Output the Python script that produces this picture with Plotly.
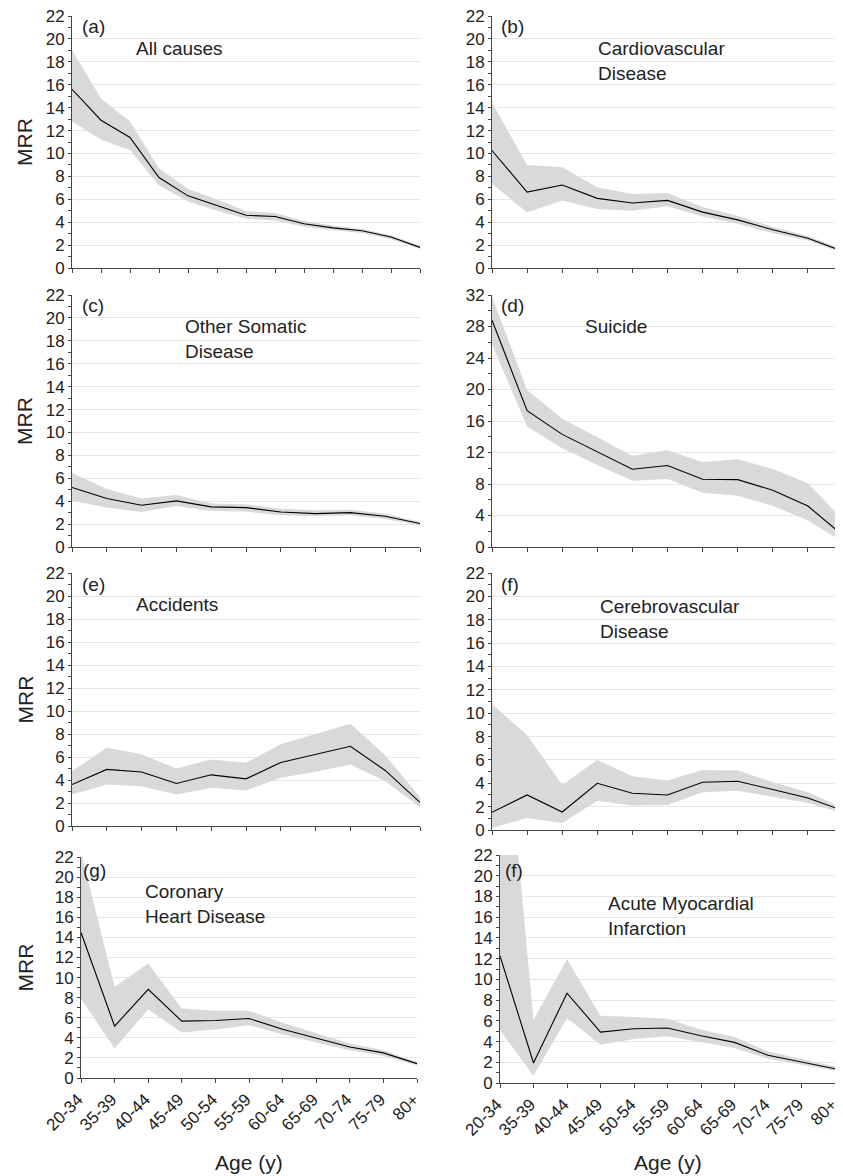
import plotly.graph_objects as go

# ---------------- data ----------------
ages_a = ["20-24", "25-29", "30-34", "35-39", "40-44", "45-49", "50-54",
          "55-59", "60-64", "65-69", "70-74", "75-79", "80+"]
ages = ["20-34", "35-39", "40-44", "45-49", "50-54", "55-59",
        "60-64", "65-69", "70-74", "75-79", "80+"]

all_mrr = [15.6, 12.9, 11.4, 7.9, 6.3, 5.45, 4.6, 4.5, 3.87, 3.5, 3.25, 2.7, 1.8]
all_lo = [12.8, 11.2, 10.3, 7.2, 5.8, 5.0, 4.3, 4.15, 3.6, 3.3, 3.05, 2.5, 1.65]
all_hi = [19.0, 14.8, 12.8, 8.7, 6.9, 6.0, 4.95, 4.8, 4.1, 3.7, 3.4, 2.85, 1.95]

cvd_mrr = [10.26, 6.63, 7.24, 6.08, 5.67, 5.9, 4.88, 4.2, 3.34, 2.6, 1.45]
cvd_lo = [7.35, 4.85, 5.9, 5.15, 5.0, 5.38, 4.5, 3.87, 3.05, 2.4, 1.3]
cvd_hi = [14.45, 9.0, 8.8, 7.06, 6.45, 6.54, 5.32, 4.56, 3.57, 2.8, 1.6]

osd_mrr = [5.2, 4.24, 3.65, 4.03, 3.5, 3.44, 3.06, 2.91, 3.0, 2.68, 2.05]
osd_lo = [4.03, 3.44, 3.06, 3.59, 3.15, 3.09, 2.77, 2.68, 2.77, 2.45, 1.9]
osd_hi = [6.45, 5.06, 4.24, 4.53, 3.8, 3.74, 3.35, 3.2, 3.26, 2.91, 2.2]

sui_mrr = [28.8, 17.3, 14.3, 12.1, 9.88, 10.35, 8.6, 8.55, 7.2, 5.2, 1.46]
sui_lo = [25.7, 15.3, 12.55, 10.4, 8.4, 8.65, 6.9, 6.5, 5.25, 3.37, 0.6]
sui_hi = [31.8, 19.95, 16.3, 13.9, 11.6, 12.3, 10.8, 11.15, 9.9, 8.1, 3.46]

acc_mrr = [3.6, 4.92, 4.69, 3.7, 4.45, 4.1, 5.53, 6.23, 6.93, 4.83, 2.05]
acc_lo = [2.74, 3.6, 3.46, 2.74, 3.32, 3.09, 4.19, 4.72, 5.35, 3.9, 1.65]
acc_hi = [4.77, 6.81, 6.23, 5.0, 5.79, 5.5, 7.1, 8.03, 8.9, 6.15, 2.5]

cer_mrr = [1.51, 3.0, 1.54, 4.0, 3.14, 3.0, 4.09, 4.17, 3.46, 2.74, 1.66]
cer_lo = [0.17, 1.03, 0.6, 2.51, 2.09, 2.14, 3.23, 3.37, 2.86, 2.31, 1.43]
cer_hi = [10.76, 8.14, 3.86, 6.0, 4.6, 4.23, 5.14, 5.09, 4.09, 3.23, 1.86]

chd_mrr = [14.48, 5.16, 8.82, 5.66, 5.72, 5.92, 4.86, 3.99, 3.09, 2.5, 1.43]
chd_lo = [7.9, 2.93, 6.82, 4.53, 4.83, 5.26, 4.33, 3.53, 2.76, 2.2, 1.26]
chd_hi = [22.5, 9.08, 11.4, 6.92, 6.69, 6.69, 5.49, 4.43, 3.43, 2.76, 1.6]

ami_mrr = [12.27, 1.93, 8.67, 4.91, 5.23, 5.3, 4.56, 3.92, 2.67, 2.02, 1.38]
ami_lo = [5.1, 0.71, 6.26, 3.69, 4.24, 4.5, 3.95, 3.37, 2.34, 1.77, 1.19]
ami_hi = [41.0, 6.1, 11.95, 6.49, 6.36, 6.2, 5.14, 4.43, 3.05, 2.31, 1.6]

tags = ["(a)", "(b)", "(c)", "(d)", "(e)", "(f)", "(g)", "(f)"]
titles = ["All causes", "Cardiovascular<br>Disease", "Other Somatic<br>Disease",
          "Suicide", "Accidents", "Cerebrovascular<br>Disease",
          "Coronary<br>Heart Disease", "Acute Myocardial<br>Infarction"]

# ---------------- layout geometry (screen pixels of the reference) ----------------
OFF = 8                      # page body margin in the browser
W, H = 843 - OFF, 1176 - OFF  # figure size so the page fits the window
FONT = "Liberation Sans, Arial, Helvetica, sans-serif"
BAND = "#d8d9db"
GRID = "#e6e6e6"
AXC = "#444444"
TXT = "#222222"


def px(x):
    return (x - OFF) / W


def py(y):
    return 1 - (y - OFF) / H


# (cats, mrr, lo, hi, x0, x1, ytop, ybot, ymax, dtick, minor, tag_xy, title_xy)
panels = [
    (ages_a, all_mrr, all_lo, all_hi, 72, 420, 16, 268, 22, 2, 1, (80, 27), (134, 48)),
    (ages, cvd_mrr, cvd_lo, cvd_hi, 492, 843, 16, 268, 22, 2, 1, (499, 27), (596, 61)),
    (ages, osd_mrr, osd_lo, osd_hi, 72, 420, 295, 547, 22, 2, 1, (80, 305), (183, 339)),
    (ages, sui_mrr, sui_lo, sui_hi, 492, 843, 295, 547, 32, 4, 2, (499, 305), (583, 326)),
    (ages, acc_mrr, acc_lo, acc_hi, 72, 420, 573, 826, 22, 2, 1, (80, 584), (134, 604)),
    (ages, cer_mrr, cer_lo, cer_hi, 492, 843, 573, 830, 22, 2, 1, (499, 584), (598, 619)),
    (ages, chd_mrr, chd_lo, chd_hi, 81, 417, 857, 1078, 22, 2, 1, (81, 870), (143, 904)),
    (ages, ami_mrr, ami_lo, ami_hi, 500, 835, 855, 1083, 22, 2, 1, (503, 870), (606, 916)),
]

fig = go.Figure()
layout = dict(
    width=W, height=H,
    margin=dict(l=0, r=0, t=0, b=0),
    paper_bgcolor="white", plot_bgcolor="white",
    showlegend=False,
    font=dict(family=FONT, color=TXT, size=17),
)
annotations = []

for i, (cats, mrr, lo, hi, x0, x1, yt, yb, ymax, dt, mn, tagxy, titxy) in enumerate(panels):
    k = i + 1
    xa = "x" if k == 1 else f"x{k}"
    ya = "y" if k == 1 else f"y{k}"
    # confidence band
    fig.add_trace(go.Scatter(
        x=list(cats) + list(cats)[::-1], y=list(hi) + list(lo)[::-1],
        fill="toself", fillcolor=BAND, line=dict(width=0), mode="lines",
        hoverinfo="skip", xaxis=xa, yaxis=ya))
    # MRR line
    fig.add_trace(go.Scatter(
        x=cats, y=mrr, mode="lines", line=dict(color="black", width=1.1),
        xaxis=xa, yaxis=ya))
    bottom = k >= 7
    layout[f"xaxis{k}"] = dict(
        domain=[px(x0), min(px(x1), 1.0)], anchor=ya,
        type="category", categoryorder="array", categoryarray=cats,
        range=[0, len(cats) - 1],
        showline=True, linecolor=AXC, linewidth=1,
        ticks="outside", ticklen=4, tickcolor=AXC,
        showgrid=False, zeroline=False,
        showticklabels=bottom, tickangle=-45,
        ticklabelshift=-3, ticklabeloverflow="allow",
        tickfont=dict(size=17, color=TXT),
        automargin=False,
    )
    layout[f"yaxis{k}"] = dict(
        domain=[py(yb), py(yt)], anchor=xa,
        range=[0, ymax], dtick=dt, tick0=0,
        showline=True, linecolor=AXC, linewidth=1,
        ticks="outside", ticklen=3, tickcolor=AXC,
        minor=dict(dtick=mn, ticks="outside", ticklen=3, tickcolor=AXC, showgrid=False),
        showgrid=True, gridcolor=GRID, gridwidth=1,
        zeroline=False, ticklabeloverflow="allow",
        tickfont=dict(size=17, color=TXT),
        automargin=False,
    )
    annotations.append(dict(
        text=tags[i], x=px(tagxy[0]), y=py(tagxy[1]), xref="paper", yref="paper",
        xanchor="left", yanchor="middle", showarrow=False,
        font=dict(size=19, color=TXT)))
    annotations.append(dict(
        text=titles[i], x=px(titxy[0]), y=py(titxy[1]), xref="paper", yref="paper",
        xanchor="left", yanchor="middle", align="left", showarrow=False,
        font=dict(size=19, color=TXT)))
    if x0 < 200:
        annotations.append(dict(
            text="MRR", x=px(25), y=py((yt + yb) / 2), xref="paper", yref="paper",
            xanchor="center", yanchor="middle", textangle=-90, showarrow=False,
            font=dict(size=21, color=TXT)))
    if bottom:
        annotations.append(dict(
            text="Age (y)", x=px((x0 + x1) / 2), y=py(1162), xref="paper", yref="paper",
            xanchor="center", yanchor="middle", showarrow=False,
            font=dict(size=21, color=TXT)))

layout["annotations"] = annotations
fig.update_layout(**layout)
fig.write_html("out.html")
